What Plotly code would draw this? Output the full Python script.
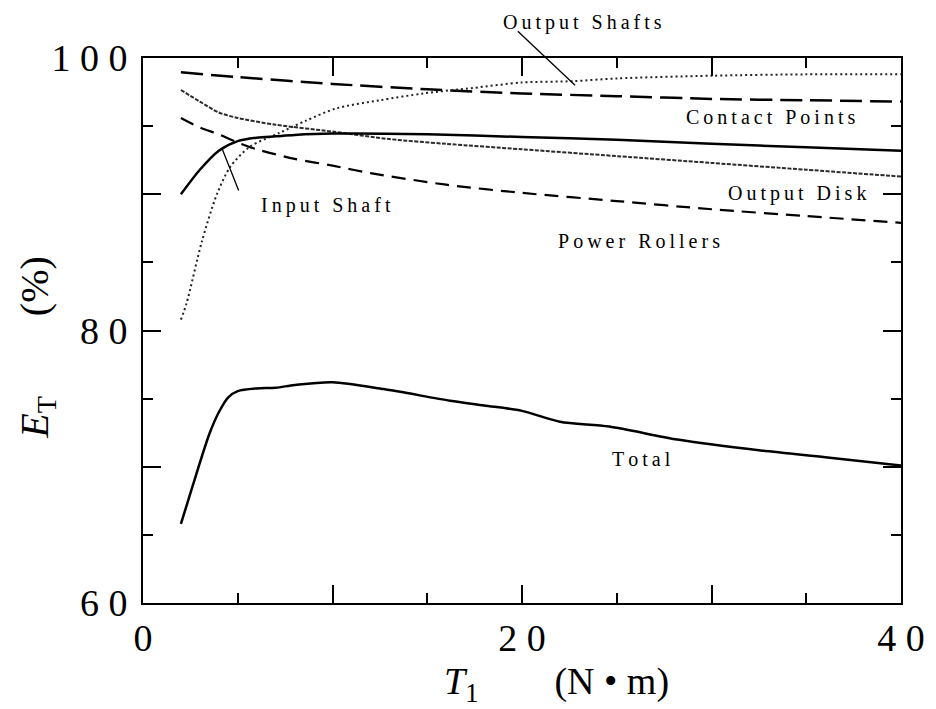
import plotly.graph_objects as go

# Efficiency of each element vs. input torque T1 (N·m)
t_contact = [2, 5, 10, 15, 20, 25, 30, 35, 40]
e_contact = [98.95, 98.6, 98.1, 97.7, 97.4, 97.2, 97.0, 96.9, 96.8]

t_input = [2, 3, 4, 5, 6, 7, 8, 10, 15, 20, 25, 30, 35, 40]
e_input = [90.0, 91.8, 93.2, 93.9, 94.15, 94.25, 94.35, 94.45, 94.4, 94.2, 94.0, 93.7, 93.45, 93.2]

t_disk = [2, 3, 4, 5, 7, 10, 13, 16, 20, 25, 30, 35, 40]
e_disk = [97.65, 96.8, 96.0, 95.6, 95.1, 94.6, 94.05, 93.7, 93.3, 92.8, 92.3, 91.8, 91.3]

t_rollers = [2, 3, 4, 5, 6, 8, 10, 12, 16, 20, 25, 30, 35, 40]
e_rollers = [95.6, 94.9, 94.4, 93.8, 93.3, 92.6, 92.1, 91.55, 90.7, 90.1, 89.5, 88.9, 88.4, 87.9]

t_shafts = [2, 2.3, 3.1, 3.9, 4.6, 5.65, 7.2, 8.6, 10.2, 12.5, 14.8, 17.4, 20, 22.7, 25, 30, 35, 40]
e_shafts = [80.8, 82.0, 86.5, 90.0, 92.0, 93.5, 94.5, 95.4, 96.3, 96.9, 97.4, 97.8, 98.2, 98.3, 98.5, 98.7, 98.8, 98.8]

t_total = [2, 2.6, 3.5, 4, 4.5, 5, 6, 7, 8, 10, 12.7, 16.2, 18, 20, 22, 24.6, 28.2, 32.6, 36, 40]
e_total = [65.8, 68.5, 72.4, 74.0, 75.1, 75.55, 75.75, 75.8, 76.0, 76.2, 75.7, 74.85, 74.5, 74.1, 73.3, 72.95, 72.0, 71.2, 70.7, 70.1]

x_tickvals = [0, 10, 20, 30, 40]
x_ticktext = ["0", "", "2 0", "", "4 0"]
y_tickvals = [60, 70, 80, 90, 100]
y_ticktext = ["6 0", "", "8 0", "", "1 0 0"]

FONT = "Liberation Serif"
INK = "black"


def spaced(s):
    return "\u2009".join(s)


fig = go.Figure()

series = [
    (t_contact, e_contact, dict(color=INK, width=2.5, dash="22px,8px")),
    (t_rollers, e_rollers, dict(color=INK, width=2.2, dash="14px,8px")),
    (t_disk, e_disk, dict(color="#2a2a2a", width=2.0, dash="4px,1.5px")),
    (t_shafts, e_shafts, dict(color="#222222", width=2.0, dash="2px,3px")),
    (t_input, e_input, dict(color=INK, width=2.5)),
    (t_total, e_total, dict(color=INK, width=2.5)),
]
for tx, ey, ln in series:
    fig.add_trace(go.Scatter(x=tx, y=ey, mode="lines",
                             line=dict(shape="spline", smoothing=0.8, **ln),
                             hoverinfo="skip"))

label_font = dict(family=FONT, size=20, color=INK)
labels = [
    ("Contact Points", 33.1, 95.66),
    ("Output Disk", 34.5, 90.07),
    ("Input Shaft", 9.66, 89.19),
    ("Power Rollers", 26.2, 86.6),
    ("Total", 26.3, 70.6),
]
annotations = []
for txt, tx, ey in labels:
    annotations.append(dict(text=spaced(txt), x=tx, y=ey, xref="x", yref="y",
                            showarrow=False, xanchor="center", yanchor="middle",
                            font=label_font))

# label sitting above the frame (paper coordinates vertically)
annotations.append(dict(text=spaced("Output Shafts"), x=23.2, y=1.066,
                        xref="x", yref="paper", showarrow=False,
                        xanchor="center", yanchor="middle", font=label_font))

# leader lines from labels to curves
leaders = [
    (22.8, 98.0, 19.7, 102.06),
    (4.17, 93.35, 5.08, 90.17),
]
for x, y, ax, ay in leaders:
    annotations.append(dict(text="", x=x, y=y, ax=ax, ay=ay,
                            xref="x", yref="y", axref="x", ayref="y",
                            showarrow=True, arrowhead=0, arrowwidth=1.3,
                            arrowcolor=INK, standoff=0, startstandoff=0,
                            font=dict(size=1)))

# axis titles
annotations.append(dict(
    text="<i>E</i><sub>T</sub>\u2003\u2003(%)",
    xref="paper", yref="paper", x=-0.14, y=0.47, textangle=-90,
    showarrow=False, xanchor="center", yanchor="middle",
    font=dict(family=FONT, size=40, color=INK)))
annotations.append(dict(
    text="<i>T</i><sub>1</sub>\u2003\u2003(N \u2022 m)",
    xref="paper", yref="paper", x=0.546, y=-0.148,
    showarrow=False, xanchor="center", yanchor="middle",
    font=dict(family=FONT, size=38, color=INK)))

axis_common = dict(
    showgrid=False, zeroline=False, showline=True, linewidth=2, linecolor=INK,
    mirror="ticks", ticks="inside", ticklen=18, tickwidth=2, tickcolor=INK,
    tickfont=dict(family=FONT, size=38, color=INK),
)

fig.update_xaxes(range=[0, 40], tickvals=x_tickvals, ticktext=x_ticktext,
                 minor=dict(tickvals=[5, 15, 25, 35], ticks="inside", ticklen=10,
                            tickwidth=2, tickcolor=INK),
                 ticklabelstandoff=0, **axis_common)
fig.update_yaxes(range=[60, 100], tickvals=y_tickvals, ticktext=y_ticktext,
                 minor=dict(tickvals=[65, 75, 85, 95], ticks="inside", ticklen=10,
                            tickwidth=2, tickcolor=INK),
                 ticklabelstandoff=6, **axis_common)

fig.update_layout(
    width=936, height=709,
    margin=dict(l=143, r=35, t=58, b=106),
    plot_bgcolor="white", paper_bgcolor="white",
    showlegend=False,
    annotations=annotations,
)

fig.write_html("out.html")
